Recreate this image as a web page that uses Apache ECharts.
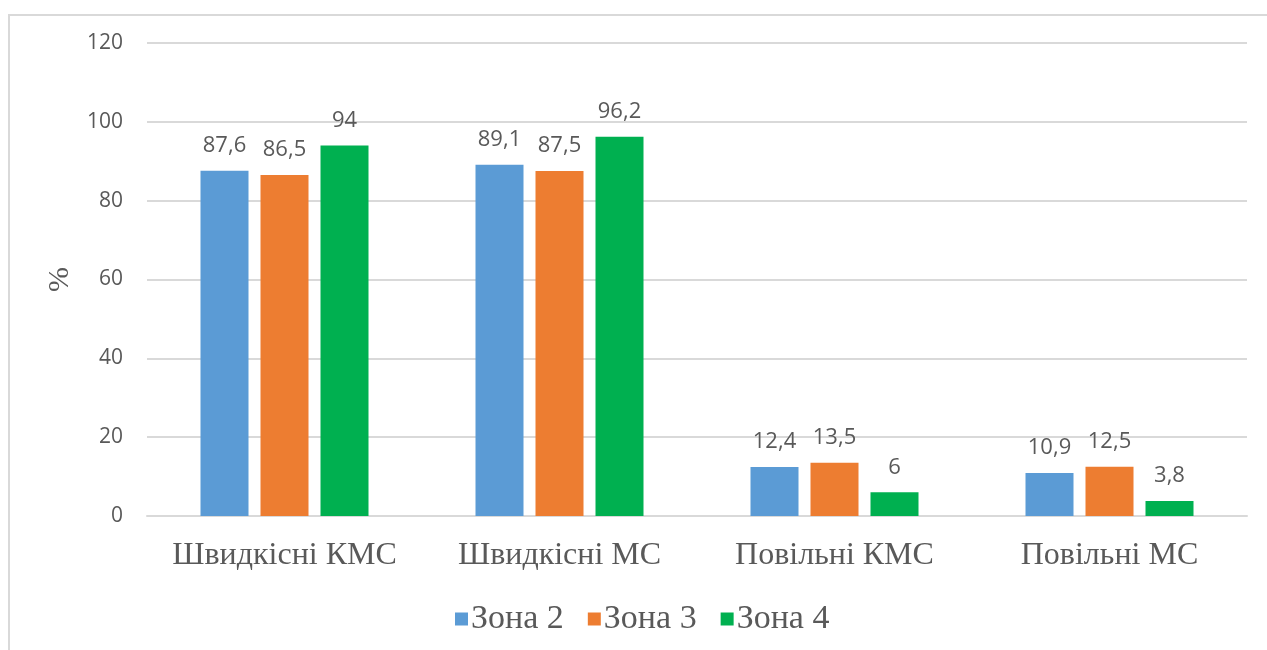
<!DOCTYPE html>
<html>
<head>
<meta charset="utf-8">
<script src="https://cdn.jsdelivr.net/npm/echarts@6/dist/echarts.min.js"></script>
<style>
  html, body { margin: 0; padding: 0; background: #fff; }
  #chart { width: 1267px; height: 650px; }
</style>
</head>
<body>
<div id="chart"></div>
<script>
// Categories and zone values (%)
const categories = ['Швидкісні КМС', 'Швидкісні МС', 'Повільні КМС', 'Повільні МС'];
const seriesNames = ['Зона 2', 'Зона 3', 'Зона 4'];
const zone2 = [87.6, 89.1, 12.4, 10.9];
const zone3 = [86.5, 87.5, 13.5, 12.5];
const zone4 = [94, 96.2, 6, 3.8];
const colors = ['#5B9BD5', '#ED7D31', '#00B050'];
const yTicks = { min: 0, max: 120, interval: 20 };

const fmt = p => String(p.value).replace('.', ',');
const textGray = '#595959';

function barSeries(name, data, color) {
  return {
    name: name,
    type: 'bar',
    data: data,
    barWidth: 48,
    barGap: '25%',
    itemStyle: { color: color },
    label: {
      show: true,
      position: 'top',
      distance: 14,
      formatter: fmt,
      color: textGray,
      fontFamily: '"Open Sans", sans-serif',
      fontSize: 22
    }
  };
}

const chart = echarts.init(document.getElementById('chart'));
chart.setOption({
  animation: false,
  backgroundColor: '#fff',
  graphic: [{
    type: 'rect',
    shape: { x: 9, y: 15, width: 1400, height: 1000 },
    style: { fill: 'none', stroke: '#d9d9d9', lineWidth: 2 },
    silent: true
  }],
  grid: { left: 147, right: 20, top: 43, bottom: 134 },
  legend: {
    data: seriesNames,
    left: 450,
    top: 597,
    itemWidth: 13,
    itemHeight: 13,
    itemGap: 24,
    icon: 'rect',
    textStyle: {
      color: textGray,
      fontFamily: '"Liberation Serif", serif',
      fontSize: 34,
      padding: [0, 0, 0, -2]
    }
  },
  xAxis: {
    type: 'category',
    data: categories,
    axisLine: { lineStyle: { color: '#d9d9d9', width: 2 } },
    axisTick: { show: false },
    axisLabel: {
      interval: 0,
      margin: 24,
      color: textGray,
      fontFamily: '"Liberation Serif", serif',
      fontSize: 32
    }
  },
  yAxis: {
    type: 'value',
    min: yTicks.min,
    max: yTicks.max,
    interval: yTicks.interval,
    name: '%',
    nameLocation: 'middle',
    nameGap: 72,
    nameRotate: 90,
    nameTextStyle: {
      color: textGray,
      fontFamily: '"Liberation Serif", serif',
      fontSize: 30
    },
    axisLine: { show: false },
    axisTick: { show: false },
    splitLine: { lineStyle: { color: '#d9d9d9', width: 2 } },
    axisLabel: {
      margin: 24,
      color: textGray,
      fontFamily: '"Open Sans", sans-serif',
      fontSize: 21
    }
  },
  series: [
    barSeries(seriesNames[0], zone2, colors[0]),
    barSeries(seriesNames[1], zone3, colors[1]),
    barSeries(seriesNames[2], zone4, colors[2])
  ]
});
</script>
</body>
</html>
